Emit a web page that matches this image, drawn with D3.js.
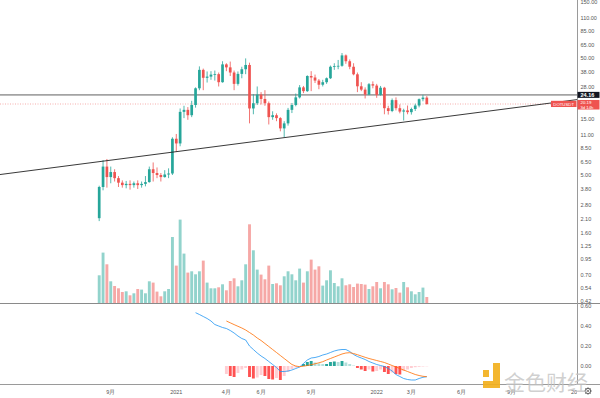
<!DOCTYPE html>
<html>
<head>
<meta charset="utf-8">
<title>DOTUSDT</title>
<script src="https://cdn.jsdelivr.net/npm/d3@7"></script>
<style>
	body, html { margin: 0; background: #fff; overflow: hidden; }
	text { font-family: "Liberation Sans", Arial, sans-serif; }
	.axislbl { font-size: 5.5px; fill: #555; }
</style>
</head>
<body>
<div id="chart"></div>
<script>
	// chart size
	var w = 600, h = 398;

	// weekly bars, first bar = week of 2020-08-17
	var firstWeek = Date.UTC(2020, 7, 17);
	var open = [2.14, 3.95, 5.9, 4.8, 5.3, 4.7, 4.3, 4.1, 4.2, 4.1, 4.25, 4.1, 4.2, 4.35, 5.6, 5.2, 5.0, 4.8, 5.05, 5.15,
		10.2, 9.3, 17.3, 18.0, 16.2, 19.8, 27.5, 39.5, 33.8, 34.6, 36.0, 36.3, 31.0, 44.0, 41.5, 37.5, 30.0, 36.5, 40.0, 43.5,
		18.5, 20.5, 24.3, 22.3, 20.5, 15.6, 16.2, 15.3, 12.5, 13.8, 18.0, 19.8, 23.0, 28.0, 26.0, 35.0, 34.0, 32.0, 29.5, 31.0,
		33.5, 42.0, 42.6, 42.8, 52.5, 46.8, 42.0, 36.2, 28.6, 26.8, 24.3, 29.8, 29.0, 24.2, 27.8, 18.6, 17.6, 21.8, 18.6, 17.4,
		17.8, 17.2, 18.3, 19.6, 22.2, 22.9];
	var high = [4.05, 6.7, 6.85, 5.9, 5.6, 4.9, 4.5, 4.45, 4.5, 4.4, 4.5, 4.4, 4.9, 5.9, 6.4, 5.8, 5.2, 5.5, 5.7, 10.5,
		11.2, 18.5, 19.5, 19.0, 21.5, 28.0, 42.3, 40.5, 38.3, 38.5, 39.0, 37.5, 46.8, 45.0, 46.5, 39.0, 38.3, 42.0, 49.5, 45.5,
		24.5, 28.5, 25.5, 26.5, 21.2, 17.5, 16.8, 15.6, 14.4, 18.7, 20.6, 24.8, 29.3, 28.8, 35.5, 38.5, 36.0, 33.0, 32.5, 34.0,
		43.0, 45.0, 48.0, 55.0, 53.5, 48.5, 45.0, 37.5, 31.0, 28.0, 30.5, 31.5, 30.0, 28.8, 28.3, 19.5, 22.5, 23.0, 20.0, 18.4,
		19.6, 18.8, 20.3, 22.5, 24.2, 23.6];
	var low = [2.02, 3.7, 3.9, 4.25, 4.4, 3.95, 3.9, 3.85, 3.75, 3.9, 3.8, 3.9, 4.0, 4.3, 4.4, 4.7, 4.4, 4.75, 4.7, 5.0,
		7.9, 8.8, 15.3, 14.8, 15.6, 18.8, 26.5, 26.5, 30.8, 32.5, 32.0, 28.5, 30.7, 38.5, 35.0, 26.5, 29.0, 33.5, 36.3, 13.8,
		16.5, 19.8, 20.0, 19.5, 13.5, 14.8, 14.4, 11.8, 10.5, 13.2, 16.9, 19.3, 22.5, 25.0, 25.6, 26.0, 30.5, 27.0, 28.5, 30.0,
		33.0, 39.5, 40.0, 42.0, 44.5, 40.0, 35.5, 25.5, 26.0, 22.5, 24.0, 27.5, 22.8, 23.8, 16.5, 16.4, 17.2, 17.8, 16.8, 14.6,
		16.5, 16.4, 17.6, 18.9, 21.3, 19.9];
	var close = [3.95, 5.9, 4.8, 5.3, 4.7, 4.3, 4.1, 4.2, 4.1, 4.25, 4.1, 4.2, 4.35, 5.6, 5.2, 5.0, 4.8, 5.05, 5.15, 10.2,
		9.3, 17.3, 18.0, 16.2, 19.8, 27.5, 39.5, 33.8, 34.6, 36.0, 36.3, 31.0, 44.0, 41.5, 37.5, 30.0, 36.5, 40.0, 43.5, 18.5,
		20.5, 24.3, 22.3, 20.5, 15.6, 16.2, 15.3, 12.5, 13.8, 18.0, 19.8, 23.0, 28.0, 26.0, 35.0, 34.0, 32.0, 29.5, 31.0, 33.5,
		42.0, 42.6, 42.8, 52.5, 46.8, 42.0, 36.2, 28.6, 26.8, 24.3, 29.8, 29.0, 24.2, 27.8, 18.6, 17.6, 21.8, 18.6, 17.4, 17.8,
		17.2, 18.3, 19.6, 22.2, 22.9, 20.19];
	var volume = [27.7, 50.4, 38.7, 21.7, 17, 14.7, 11, 11.7, 7.7, 9.7, 14, 13.4, 9.7, 21.7, 20.4, 11.4, 6.7, 11.7, 14, 66,
		37.4, 83.4, 49.4, 30.4, 31.7, 28.7, 31.7, 42.4, 20.4, 14.7, 14.7, 15.7, 18.7, 12.7, 22, 24.7, 16.7, 22.7, 38.7, 78.7,
		52.7, 33.4, 28.4, 23.7, 37.4, 19, 19.7, 17.7, 26.7, 31.7, 28.7, 22.7, 34.4, 20.4, 31.7, 43.4, 33.4, 36.7, 17.4, 22.7,
		32.7, 20, 16.7, 24.7, 17.7, 18.7, 16, 19.4, 19, 18.4, 14, 16.7, 21, 14.7, 21, 18.7, 13.7, 15, 10.4, 21,
		15.7, 11.7, 8.7, 11, 15.4, 6];

	// MACD pane (blue line starts at bar 25, signal + histogram at bar 33)
	var macdStart = 25, signalStart = 33;
	var macdLine = [0.533, 0.515, 0.495, 0.475, 0.45, 0.415, 0.40, 0.385, 0.375, 0.355, 0.33, 0.30, 0.275, 0.26, 0.20,
		0.165, 0.13, 0.10, 0.075, 0.045, 0.015, -0.015, -0.055, -0.055, -0.05, -0.04, -0.025, -0.01, 0.025, 0.06, 0.08,
		0.085, 0.095, 0.11, 0.12, 0.135, 0.15, 0.16, 0.165, 0.165, 0.145, 0.115, 0.095, 0.08, 0.065, 0.045, 0.03, 0.015,
		0.005, -0.005, -0.025, -0.05, -0.085, -0.105, -0.125, -0.135, -0.14, -0.14, -0.125, -0.113, -0.107];
	var signalLine = [0.45, 0.432, 0.414, 0.397, 0.38, 0.36, 0.335, 0.31, 0.28, 0.255, 0.225, 0.195, 0.165, 0.135, 0.105,
		0.075, 0.045, 0.015, 0.0, -0.007, -0.002, 0.005, 0.013, 0.022, 0.032, 0.043, 0.06, 0.075, 0.09, 0.105, 0.12, 0.13,
		0.133, 0.125, 0.113, 0.10, 0.087, 0.075, 0.065, 0.055, 0.045, 0.035, 0.02, 0.005, -0.01, -0.025, -0.04, -0.055,
		-0.07, -0.085, -0.095, -0.103, -0.107];
	var histogram = [-0.08, -0.10, -0.11, -0.07, -0.035, -0.02, -0.11, -0.125, -0.115, -0.09, -0.10, -0.13, -0.135, -0.12,
		-0.14, -0.10, -0.06, -0.03, -0.015, -0.005, 0.02, 0.04, 0.05, 0.035, 0.025, 0.02, 0.02, 0.04, 0.045, 0.04, 0.05,
		0.035, 0.02, 0.005, -0.02, -0.035, -0.05, -0.035, -0.055, -0.05, -0.035, -0.06, -0.08, -0.065, -0.08, -0.085, -0.05,
		-0.035, -0.02, -0.012, -0.008, -0.005, -0.003];

	var priceTicks = [150, 110, 85, 65, 50, 38, 28, 15, 11, 8.5, 6.5, 5, 3.8, 2.8, 2.1, 1.6, 1.25, 0.95, 0.7, 0.54, 0.42];
	var macdTicks = [0.6, 0.4, 0.2, 0];
	var timeTickDates = ["2020-09-07", "2021-01-04", "2021-04-05", "2021-06-07", "2021-09-06", "2022-01-03", "2022-03-07",
		"2022-06-06", "2022-09-05", "2023-01-02"];
	var timeTickLabels = ["9月", "2021", "4月", "6月", "9月", "2022", "3月", "6月", "9月", "2023"];

	var symbol = "DOTUSDT", countdown = "3d 14h";
	var levelPrice = 24.16;
	// trend line anchors [week, price]
	var trendDates = ["2020-08-17", "2022-04-04"];
	var trendPrices = [6.5, 15.0];

	var upColor = "#26a69a", downColor = "#ef5350";
	var axisX = 577.5, paneBottom = 303.5, timeTop = 384.5;

	var dates = d3.range(open.length).map(function (i) {
		return d3.utcMonday.offset(new Date(firstWeek), i);
	});

	// scales
	var x = d3.scaleUtc()
		.domain([new Date(firstWeek), new Date(Date.UTC(2022, 0, 3))])
		.range([99.2, 376.7]);
	var y = d3.scaleLog().domain([0.42, 150]).range([301, 2]);
	var yVol = d3.scaleLinear().domain([0, d3.max(volume)]).range([303, 219.6]);
	var yMacd = d3.scaleLinear().domain([0, 0.6]).range([366, 306]);

	var svg = d3.select("#chart").append("svg")
		.attr("width", w).attr("height", h);

	svg.append("clipPath").attr("id", "pclip")
		.append("rect").attr("x", 0).attr("y", 0).attr("width", axisX).attr("height", paneBottom);
	svg.append("clipPath").attr("id", "mclip")
		.append("rect").attr("x", 0).attr("y", paneBottom).attr("width", axisX).attr("height", timeTop - paneBottom);
	svg.append("clipPath").attr("id", "tclip")
		.append("rect").attr("x", 0).attr("y", timeTop).attr("width", axisX - 0.5).attr("height", h - timeTop);

	var pane = svg.append("g").attr("clip-path", "url(#pclip)");
	var bw = 2.7;

	function isUp(i) { return close[i] >= open[i]; }

	// volume bars
	pane.append("g").selectAll("rect").data(volume).enter().append("rect")
		.attr("x", function (d, i) { return x(dates[i]) - 1.45; })
		.attr("y", function (d) { return yVol(d); })
		.attr("width", 2.9)
		.attr("height", function (d) { return yVol(0) - yVol(d); })
		.attr("fill", function (d, i) { return isUp(i) ? "#92d3cc" : "#f6a8a6"; });

	// horizontal level + last price line
	pane.append("line")
		.attr("x1", 0).attr("x2", axisX)
		.attr("y1", y(levelPrice)).attr("y2", y(levelPrice))
		.attr("stroke", "#a3a3a3").attr("stroke-width", 1.7);
	pane.append("line")
		.attr("x1", 0).attr("x2", axisX)
		.attr("y1", y(close[close.length - 1])).attr("y2", y(close[close.length - 1]))
		.attr("stroke", "#f29a98").attr("stroke-width", 0.8).attr("stroke-dasharray", "1,1.5");

	// candles
	var candles = pane.append("g").selectAll("g").data(open).enter().append("g");
	candles.append("line")
		.attr("x1", function (d, i) { return x(dates[i]); })
		.attr("x2", function (d, i) { return x(dates[i]); })
		.attr("y1", function (d, i) { return y(high[i]); })
		.attr("y2", function (d, i) { return y(low[i]); })
		.attr("stroke", function (d, i) { return isUp(i) ? upColor : downColor; })
		.attr("stroke-width", 0.8);
	candles.append("rect")
		.attr("x", function (d, i) { return x(dates[i]) - bw / 2; })
		.attr("y", function (d, i) { return y(Math.max(open[i], close[i])); })
		.attr("width", bw)
		.attr("height", function (d, i) {
			return Math.max(0.8, Math.abs(y(open[i]) - y(close[i])));
		})
		.attr("fill", function (d, i) { return isUp(i) ? upColor : downColor; });

	// trend line, extended over the whole pane
	var tx0 = x(new Date(trendDates[0])), ty0 = y(trendPrices[0]);
	var tx1 = x(new Date(trendDates[1])), ty1 = y(trendPrices[1]);
	var slope = (ty1 - ty0) / (tx1 - tx0);
	pane.append("line")
		.attr("x1", 0).attr("y1", ty0 - slope * tx0)
		.attr("x2", axisX).attr("y2", ty0 + slope * (axisX - tx0))
		.attr("stroke", "#222").attr("stroke-width", 0.9);

	// MACD pane
	var mpane = svg.append("g").attr("clip-path", "url(#mclip)");
	mpane.append("g").selectAll("rect").data(histogram).enter().append("rect")
		.attr("x", function (d, i) { return x(dates[i + signalStart]) - 1.45; })
		.attr("y", function (d) { return Math.min(yMacd(d), yMacd(0)); })
		.attr("width", 2.9)
		.attr("height", function (d) { return Math.abs(yMacd(d) - yMacd(0)); })
		.attr("fill", function (d, i) {
			var prev = i > 0 ? histogram[i - 1] : d;
			if (d >= 0) return d >= prev ? "#26a69a" : "#b2dfdb";
			return d < prev ? "#ff5252" : "#ffcdd2";
		});
	var macdPath = d3.line()
		.x(function (d, i) { return x(dates[i + macdStart]); })
		.y(function (d) { return yMacd(d); });
	var sigPath = d3.line()
		.x(function (d, i) { return x(dates[i + signalStart]); })
		.y(function (d) { return yMacd(d); });
	mpane.append("path").datum(macdLine).attr("d", macdPath)
		.attr("fill", "none").attr("stroke", "#2196f3").attr("stroke-width", 0.8);
	mpane.append("path").datum(signalLine).attr("d", sigPath)
		.attr("fill", "none").attr("stroke", "#ff6d00").attr("stroke-width", 0.8);

	// pane separators
	svg.append("line").attr("x1", 0).attr("x2", w).attr("y1", paneBottom).attr("y2", paneBottom)
		.attr("stroke", "#8a8a8a").attr("stroke-width", 1);
	svg.append("line").attr("x1", 0).attr("x2", w).attr("y1", timeTop).attr("y2", timeTop)
		.attr("stroke", "#9a9a9a").attr("stroke-width", 1);

	// time axis (last label is cut by the price scale, as in TradingView)
	svg.append("g").attr("clip-path", "url(#tclip)")
		.selectAll("text").data(timeTickDates).enter().append("text")
		.attr("class", "axislbl")
		.attr("x", function (d) { return x(new Date(d)); })
		.attr("y", 394)
		.attr("text-anchor", "middle")
		.text(function (d, i) { return timeTickLabels[i]; });

	// right price scale
	svg.append("line").attr("x1", axisX).attr("x2", axisX).attr("y1", 0).attr("y2", timeTop)
		.attr("stroke", "#9a9a9a").attr("stroke-width", 1);

	svg.append("g").selectAll("text").data(priceTicks).enter().append("text")
		.attr("class", "axislbl")
		.attr("x", 580.5)
		.attr("y", function (d) { return y(d) + 2; })
		.text(function (d) { return d3.format(".2f")(d); });
	svg.append("g").selectAll("text").data(macdTicks).enter().append("text")
		.attr("class", "axislbl")
		.attr("x", 580.5)
		.attr("y", function (d) { return yMacd(d) + 2; })
		.text(function (d) { return d3.format(".2f")(d); });

	// price labels
	var yl = y(levelPrice);
	svg.append("rect").attr("x", axisX).attr("y", yl - 3).attr("width", 22).attr("height", 6).attr("fill", "#131722");
	svg.append("text").attr("x", 580.5).attr("y", yl + 2).attr("font-size", 5.5).attr("font-weight", "bold")
		.attr("fill", "#fff").text(d3.format(".2f")(levelPrice));

	var ylast = y(close[close.length - 1]);
	svg.append("rect").attr("x", axisX).attr("y", ylast - 4).attr("width", 22).attr("height", 9.5).attr("fill", "#ef5350");
	svg.append("text").attr("x", 580.5).attr("y", ylast + 0.2).attr("font-size", 4.4).attr("fill", "#fff")
		.text(d3.format(".2f")(close[close.length - 1]));
	svg.append("text").attr("x", 580.5).attr("y", ylast + 4.6).attr("font-size", 4.2).attr("fill", "#fff")
		.text(countdown);
	svg.append("rect").attr("x", 551).attr("y", ylast - 3.2).attr("width", 25.5).attr("height", 6.2).attr("fill", "#ef5350");
	svg.append("text").attr("x", 563.7).attr("y", ylast + 1.5).attr("font-size", 4.3).attr("text-anchor", "middle")
		.attr("fill", "#fff").text(symbol);

	// settings gear
	var gear = svg.append("g").attr("transform", "translate(588,391)");
	gear.selectAll("line").data(d3.range(8)).enter().append("line")
		.attr("x1", 0).attr("y1", 0)
		.attr("x2", function (d) { return 3.6 * Math.cos(d * Math.PI / 4); })
		.attr("y2", function (d) { return 3.6 * Math.sin(d * Math.PI / 4); })
		.attr("stroke", "#555").attr("stroke-width", 1.2);
	gear.append("circle").attr("r", 2.6).attr("fill", "#fff").attr("stroke", "#555").attr("stroke-width", 0.9);
	gear.append("circle").attr("r", 0.9).attr("fill", "#555");

	// watermark on top
	var wm = svg.append("g").attr("opacity", 0.92);
	wm.append("rect").attr("x", 483).attr("y", 381).attr("width", 17).attr("height", 7).attr("fill", "#f2b01e");
	wm.append("rect").attr("x", 493).attr("y", 363).attr("width", 7).attr("height", 21).attr("fill", "#f2b01e");
	wm.append("rect").attr("x", 483).attr("y", 370).attr("width", 6).attr("height", 7).attr("fill", "#f2b01e");
	wm.append("text").attr("x", 504).attr("y", 390)
		.attr("font-size", 21).attr("fill", "#c4c4c4").attr("fill-opacity", 0.85)
		.style("font-family", "'Noto Sans CJK SC', sans-serif")
		.text("金色财经");
</script>
</body>
</html>
